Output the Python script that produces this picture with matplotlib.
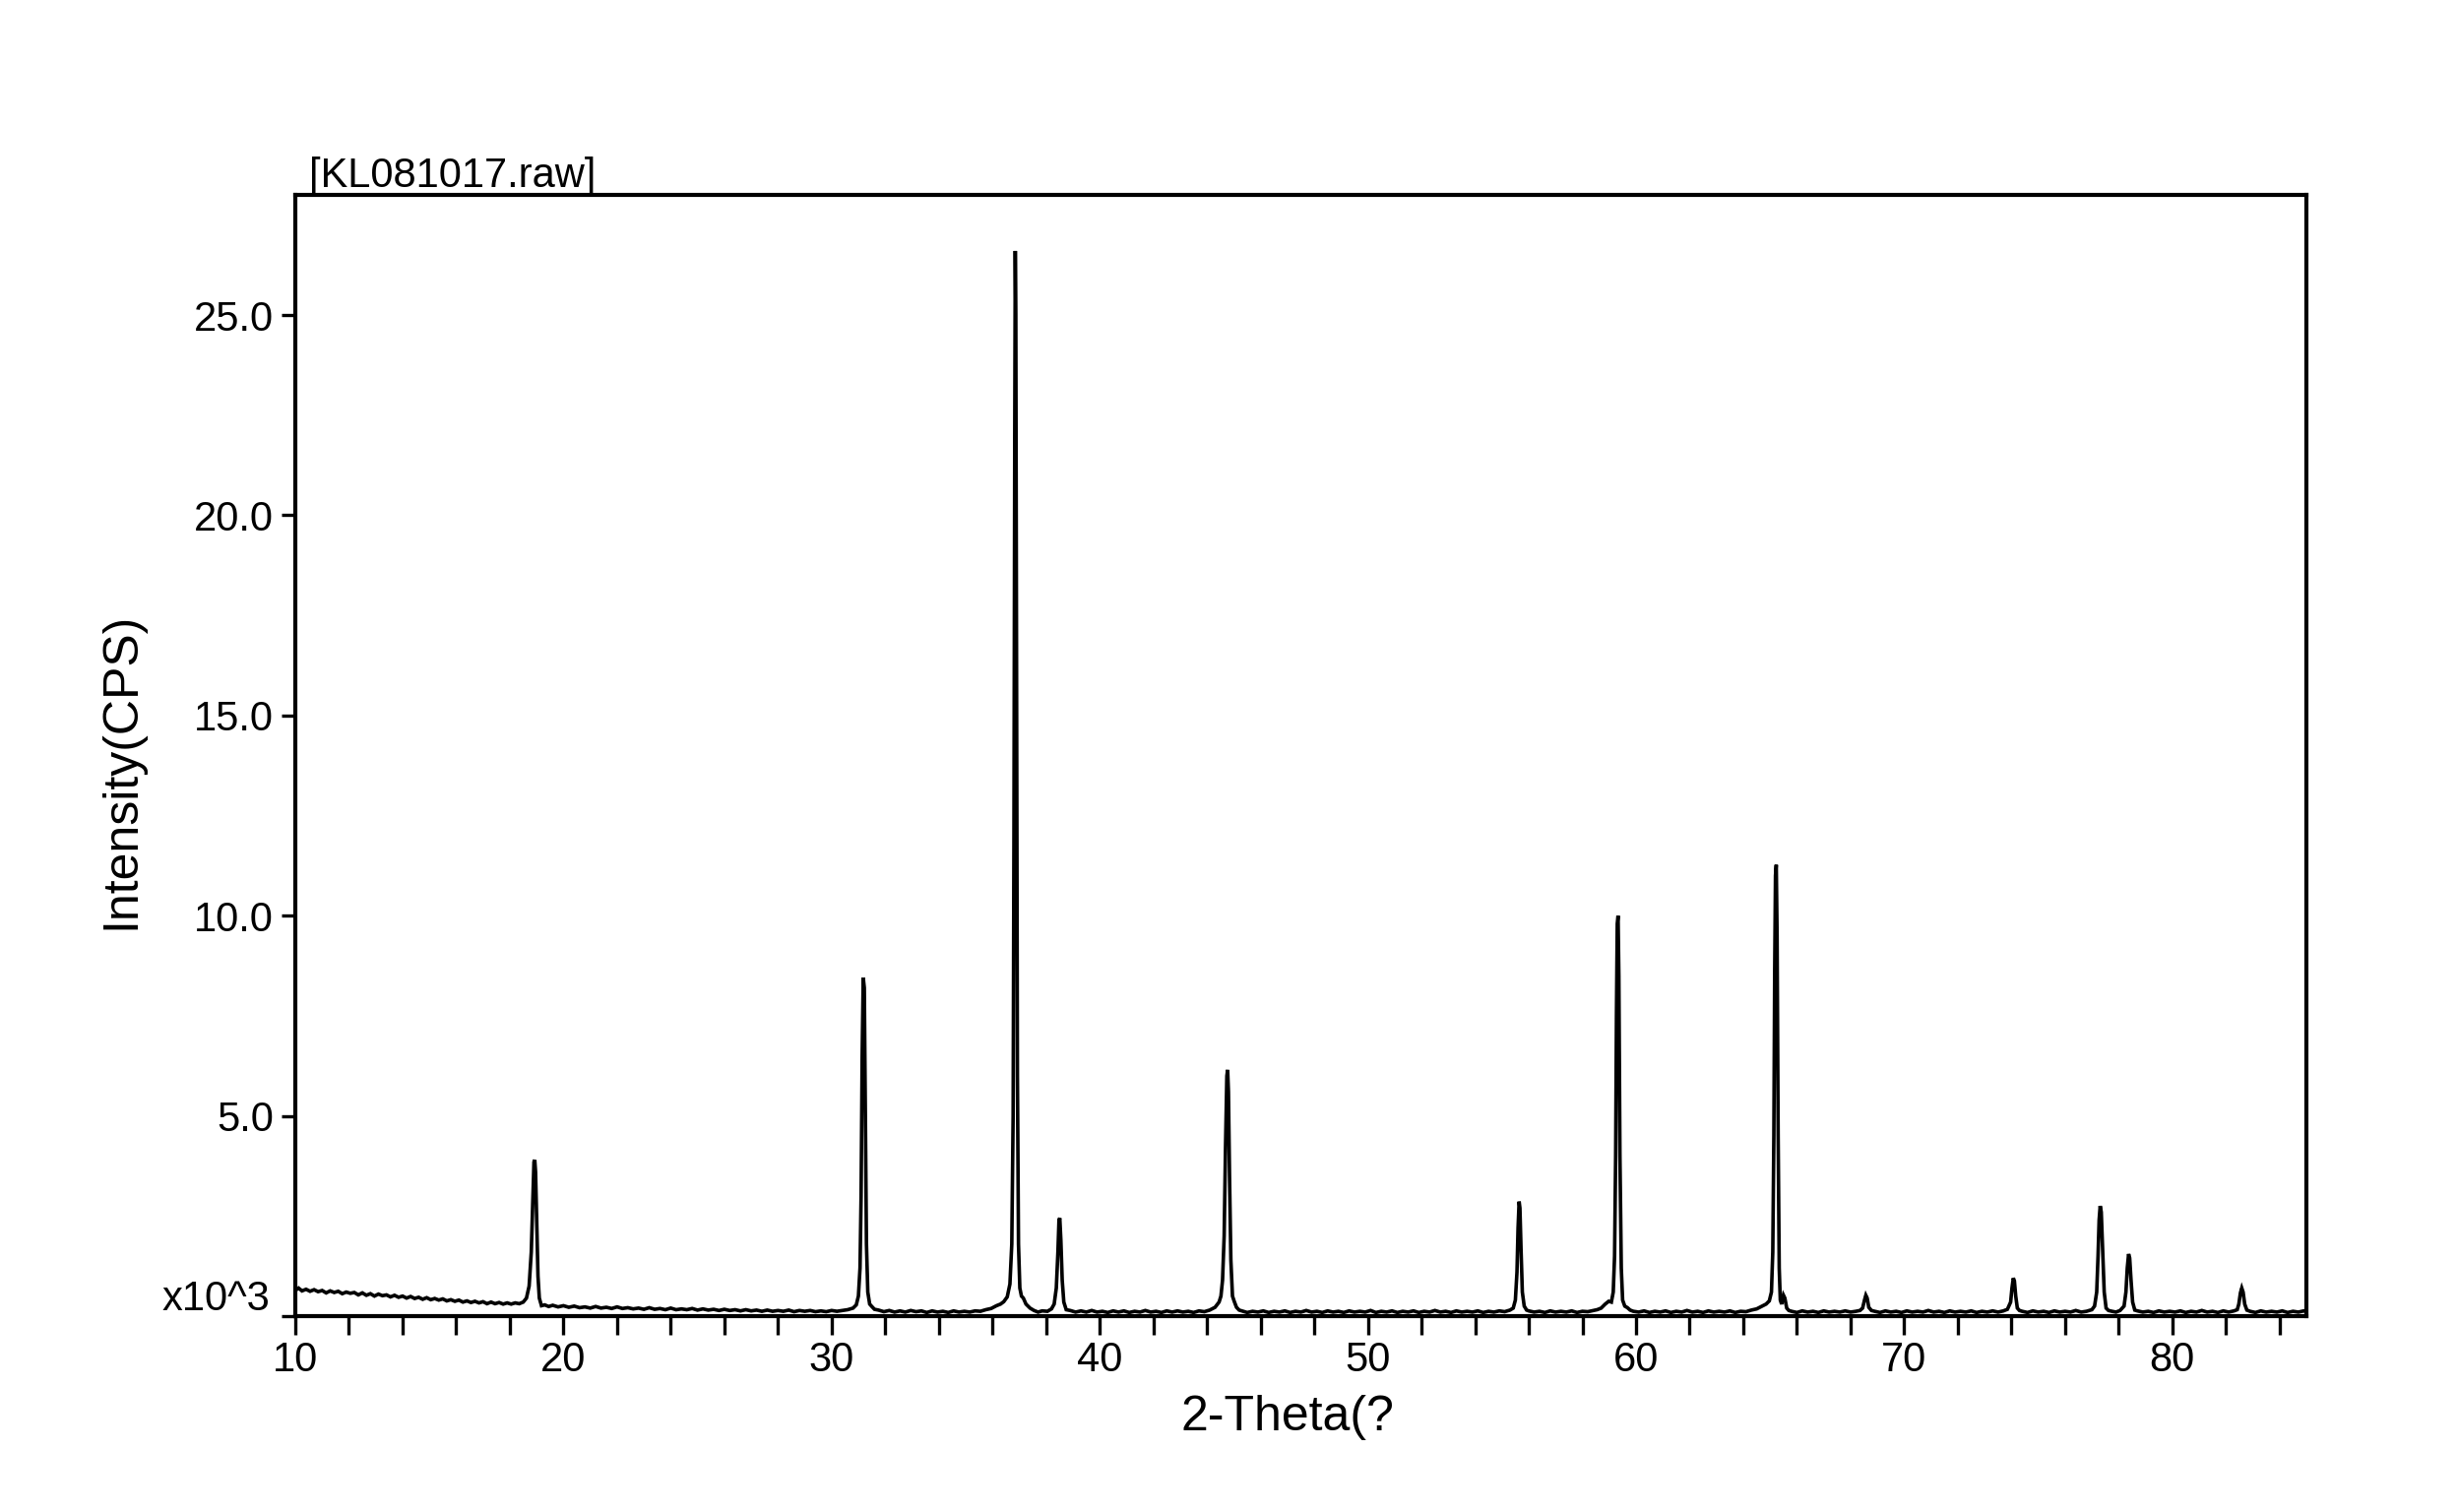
"""
plot.py - XRD pattern of sample KL081017 (2-theta scan, intensity in kCPS).
Values were read off the instrument printout by eye.
"""

import matplotlib
matplotlib.use("Agg")
import matplotlib.pyplot as plt
from matplotlib.ticker import MultipleLocator
import numpy as np

plt.rcParams["font.family"] = ["Liberation Sans", "DejaVu Sans"]

# (2-theta [deg], intensity [x10^3 CPS]), by angular range
scan_10_31 = [
    (10.00, 0.64), (10.12, 0.70), (10.25, 0.63), (10.40, 0.67), (10.55, 0.62),
    (10.70, 0.66), (10.85, 0.61), (11.00, 0.64), (11.15, 0.58), (11.30, 0.63),
    (11.45, 0.59), (11.60, 0.62), (11.75, 0.56), (11.90, 0.60), (12.05, 0.57),
    (12.20, 0.59), (12.35, 0.53), (12.50, 0.58), (12.65, 0.52), (12.80, 0.56),
    (12.95, 0.50), (13.10, 0.55), (13.25, 0.51), (13.40, 0.53), (13.55, 0.48),
    (13.70, 0.52), (13.85, 0.47), (14.00, 0.50), (14.15, 0.45), (14.30, 0.49),
    (14.45, 0.44), (14.60, 0.47), (14.75, 0.42), (14.90, 0.46), (15.05, 0.41),
    (15.20, 0.44), (15.35, 0.40), (15.50, 0.43), (15.65, 0.38), (15.80, 0.41),
    (15.95, 0.37), (16.10, 0.40), (16.25, 0.35), (16.40, 0.38), (16.55, 0.34),
    (16.70, 0.37), (16.85, 0.33), (17.00, 0.36), (17.15, 0.31), (17.30, 0.35),
    (17.45, 0.31), (17.60, 0.34), (17.75, 0.30), (17.90, 0.33), (18.05, 0.30),
    (18.20, 0.33), (18.35, 0.31), (18.50, 0.35), (18.62, 0.45), (18.72, 0.75),
    (18.80, 1.60), (18.86, 3.00), (18.90, 3.85), (18.93, 3.90), (18.96, 3.60),
    (19.00, 2.40), (19.05, 1.00), (19.10, 0.45), (19.18, 0.26), (19.30, 0.28),
    (19.45, 0.24), (19.60, 0.27), (19.80, 0.23), (20.00, 0.26), (20.20, 0.22),
    (20.40, 0.25), (20.60, 0.21), (20.80, 0.23), (21.00, 0.20), (21.20, 0.24),
    (21.40, 0.20), (21.60, 0.22), (21.80, 0.19), (22.00, 0.23), (22.20, 0.19),
    (22.40, 0.21), (22.60, 0.18), (22.80, 0.20), (23.00, 0.17), (23.20, 0.21),
    (23.40, 0.17), (23.60, 0.19), (23.80, 0.16), (24.00, 0.20), (24.20, 0.16),
    (24.40, 0.18), (24.60, 0.16), (24.80, 0.19), (25.00, 0.15), (25.20, 0.18),
    (25.40, 0.15), (25.60, 0.17), (25.80, 0.14), (26.00, 0.17), (26.20, 0.14),
    (26.40, 0.16), (26.60, 0.13), (26.80, 0.16), (27.00, 0.13), (27.20, 0.15),
    (27.40, 0.12), (27.60, 0.15), (27.80, 0.12), (28.00, 0.14), (28.20, 0.12),
    (28.40, 0.15), (28.60, 0.11), (28.80, 0.14), (29.00, 0.12), (29.20, 0.14),
    (29.40, 0.11), (29.60, 0.13), (29.80, 0.11), (30.00, 0.14), (30.20, 0.12),
    (30.40, 0.14), (30.60, 0.16), (30.80, 0.20), (30.92, 0.28), (31.00, 0.50),
    (31.06, 1.20), (31.10, 3.00), (31.14, 6.50), (31.18, 8.45), (31.22, 8.20),
    (31.26, 5.00), (31.30, 1.80), (31.35, 0.60), (31.42, 0.30), (31.50, 0.24),
    (31.60, 0.17),
]

scan_31_46 = [
    (31.75, 0.15), (31.95, 0.11), (32.15, 0.14), (32.35, 0.10), (32.55, 0.13),
    (32.75, 0.10), (32.95, 0.14), (33.15, 0.11), (33.35, 0.13), (33.55, 0.09),
    (33.75, 0.13), (33.95, 0.10), (34.15, 0.12), (34.35, 0.09), (34.55, 0.13),
    (34.75, 0.10), (34.95, 0.12), (35.15, 0.10), (35.35, 0.13), (35.55, 0.12),
    (35.75, 0.16), (35.95, 0.19), (36.15, 0.26), (36.30, 0.30), (36.42, 0.36),
    (36.55, 0.48), (36.65, 0.80), (36.72, 1.80), (36.77, 5.00), (36.80, 12.0),
    (36.83, 22.0), (36.85, 26.6), (36.87, 25.0), (36.90, 15.0), (36.93, 6.00),
    (36.97, 1.80), (37.02, 0.70), (37.08, 0.50), (37.15, 0.45), (37.25, 0.30),
    (37.40, 0.20), (37.55, 0.14), (37.70, 0.10), (37.85, 0.13), (38.05, 0.12),
    (38.20, 0.18), (38.30, 0.30), (38.38, 0.70), (38.44, 1.60), (38.48, 2.40),
    (38.51, 2.45), (38.55, 1.90), (38.60, 0.90), (38.66, 0.35), (38.75, 0.16),
    (38.90, 0.14), (39.10, 0.10), (39.30, 0.13), (39.50, 0.10), (39.70, 0.14),
    (39.90, 0.10), (40.10, 0.12), (40.30, 0.09), (40.50, 0.13), (40.70, 0.10),
    (40.90, 0.13), (41.10, 0.09), (41.30, 0.12), (41.50, 0.10), (41.70, 0.14),
    (41.90, 0.10), (42.10, 0.12), (42.30, 0.09), (42.50, 0.13), (42.70, 0.10),
    (42.90, 0.13), (43.10, 0.10), (43.30, 0.12), (43.50, 0.09), (43.70, 0.13),
    (43.90, 0.11), (44.10, 0.15), (44.30, 0.22), (44.45, 0.35), (44.52, 0.50),
    (44.58, 0.90), (44.64, 2.00), (44.69, 4.20), (44.74, 6.00), (44.77, 6.15),
    (44.80, 5.60), (44.84, 3.50), (44.89, 1.40), (44.95, 0.50), (45.02, 0.36),
    (45.10, 0.22), (45.20, 0.15), (45.30, 0.13), (45.50, 0.09), (45.70, 0.12),
    (45.90, 0.10),
]

scan_46_66 = [
    (46.10, 0.13), (46.30, 0.09), (46.50, 0.12), (46.70, 0.10), (46.90, 0.13),
    (47.10, 0.09), (47.30, 0.12), (47.50, 0.10), (47.70, 0.14), (47.90, 0.10),
    (48.10, 0.12), (48.30, 0.09), (48.50, 0.13), (48.70, 0.10), (48.90, 0.12),
    (49.10, 0.09), (49.30, 0.13), (49.50, 0.10), (49.70, 0.12), (49.90, 0.10),
    (50.10, 0.14), (50.30, 0.09), (50.50, 0.12), (50.70, 0.10), (50.90, 0.13),
    (51.10, 0.09), (51.30, 0.12), (51.50, 0.10), (51.70, 0.13), (51.90, 0.09),
    (52.10, 0.12), (52.30, 0.10), (52.50, 0.14), (52.70, 0.10), (52.90, 0.12),
    (53.10, 0.09), (53.30, 0.13), (53.50, 0.10), (53.70, 0.12), (53.90, 0.10),
    (54.10, 0.13), (54.30, 0.09), (54.50, 0.12), (54.70, 0.10), (54.90, 0.13),
    (55.10, 0.11), (55.30, 0.15), (55.42, 0.20), (55.50, 0.40), (55.56, 1.10),
    (55.60, 2.20), (55.64, 2.86), (55.67, 2.70), (55.71, 1.70), (55.76, 0.60),
    (55.83, 0.25), (55.92, 0.15), (56.00, 0.13), (56.20, 0.10), (56.40, 0.12),
    (56.60, 0.09), (56.80, 0.13), (57.00, 0.10), (57.20, 0.12), (57.40, 0.10),
    (57.60, 0.13), (57.80, 0.09), (58.00, 0.12), (58.20, 0.11), (58.40, 0.14),
    (58.55, 0.16), (58.70, 0.20), (58.85, 0.30), (58.98, 0.37), (59.08, 0.35),
    (59.15, 0.60), (59.20, 1.50), (59.24, 4.00), (59.27, 7.50), (59.30, 9.80),
    (59.33, 10.0), (59.36, 8.50), (59.40, 4.00), (59.45, 1.20), (59.50, 0.40),
    (59.58, 0.25), (59.68, 0.21), (59.78, 0.15), (59.90, 0.12), (60.10, 0.10),
    (60.30, 0.13), (60.50, 0.09), (60.70, 0.12), (60.90, 0.10), (61.10, 0.13),
    (61.30, 0.09), (61.50, 0.12), (61.70, 0.10), (61.90, 0.14), (62.10, 0.10),
    (62.30, 0.12), (62.50, 0.09), (62.70, 0.13), (62.90, 0.10), (63.10, 0.12),
    (63.30, 0.10), (63.50, 0.13), (63.70, 0.09), (63.90, 0.12), (64.10, 0.11),
    (64.30, 0.15), (64.50, 0.18), (64.70, 0.25), (64.85, 0.30), (64.97, 0.38),
    (65.05, 0.60), (65.10, 1.60), (65.14, 4.50), (65.17, 8.50), (65.20, 11.0),
    (65.23, 11.27), (65.26, 9.50), (65.30, 4.50), (65.34, 1.20), (65.38, 0.40),
    (65.43, 0.30), (65.50, 0.52), (65.55, 0.45), (65.62, 0.20), (65.70, 0.14),
    (65.80, 0.12),
]

scan_66_85 = [
    (66.00, 0.09), (66.20, 0.13), (66.40, 0.10), (66.60, 0.12), (66.80, 0.09),
    (67.00, 0.13), (67.20, 0.10), (67.40, 0.12), (67.60, 0.10), (67.80, 0.13),
    (68.00, 0.10), (68.20, 0.12), (68.35, 0.14), (68.45, 0.20), (68.52, 0.40),
    (68.57, 0.52), (68.62, 0.45), (68.68, 0.22), (68.78, 0.14), (68.90, 0.12),
    (69.10, 0.09), (69.30, 0.13), (69.50, 0.10), (69.70, 0.12), (69.90, 0.09),
    (70.10, 0.13), (70.30, 0.10), (70.50, 0.12), (70.70, 0.10), (70.90, 0.14),
    (71.10, 0.10), (71.30, 0.12), (71.50, 0.09), (71.70, 0.13), (71.90, 0.10),
    (72.10, 0.12), (72.30, 0.10), (72.50, 0.13), (72.70, 0.09), (72.90, 0.12),
    (73.10, 0.10), (73.30, 0.13), (73.50, 0.10), (73.70, 0.13), (73.85, 0.17),
    (73.97, 0.35), (74.02, 0.70), (74.07, 0.95), (74.11, 0.88), (74.16, 0.50),
    (74.22, 0.20), (74.30, 0.14), (74.40, 0.12), (74.60, 0.09), (74.80, 0.13),
    (75.00, 0.10), (75.20, 0.12), (75.40, 0.09), (75.60, 0.13), (75.80, 0.10),
    (76.00, 0.12), (76.20, 0.10), (76.40, 0.14), (76.60, 0.10), (76.80, 0.12),
    (77.00, 0.16), (77.10, 0.25), (77.18, 0.60), (77.23, 1.50), (77.27, 2.40),
    (77.31, 2.75), (77.35, 2.60), (77.40, 1.70), (77.46, 0.60), (77.53, 0.20),
    (77.62, 0.14), (77.75, 0.12), (77.90, 0.10), (78.05, 0.14), (78.20, 0.25),
    (78.27, 0.60), (78.32, 1.20), (78.37, 1.55), (78.41, 1.45), (78.46, 0.90),
    (78.52, 0.35), (78.60, 0.15), (78.70, 0.13), (78.90, 0.10), (79.10, 0.12),
    (79.30, 0.09), (79.50, 0.13), (79.70, 0.10), (79.90, 0.12), (80.10, 0.10),
    (80.30, 0.13), (80.50, 0.09), (80.70, 0.12), (80.90, 0.10), (81.10, 0.14),
    (81.30, 0.10), (81.50, 0.12), (81.70, 0.09), (81.90, 0.13), (82.10, 0.10),
    (82.30, 0.13), (82.42, 0.16), (82.48, 0.30), (82.54, 0.58), (82.59, 0.70),
    (82.64, 0.60), (82.70, 0.30), (82.78, 0.15), (82.90, 0.12), (83.10, 0.09),
    (83.30, 0.13), (83.50, 0.10), (83.70, 0.12), (83.90, 0.10), (84.10, 0.13),
    (84.30, 0.09), (84.50, 0.12), (84.70, 0.10), (84.90, 0.13), (85.00, 0.11),
]

x_major = [10, 20, 30, 40, 50, 60, 70, 80]
y_ticks = [0, 5, 10, 15, 20, 25]
y_tick_labels = ["", "5.0", "10.0", "15.0", "20.0", "25.0"]

title = "[KL081017.raw]"
x_label = "2-Theta(?"
y_label = "Intensity(CPS)"
y_scale_note = "x10^3"

scan = np.array(scan_10_31 + scan_31_46 + scan_46_66 + scan_66_85)
two_theta, counts = scan[:, 0], scan[:, 1]

W, H = 2496, 1536
fig = plt.figure(figsize=(W / 100, H / 100), dpi=100)
ax = fig.add_axes([300 / W, 1 - 1337 / H, 2043 / W, 1139 / H])

ax.plot(two_theta, counts, color="black", lw=2.6, solid_joinstyle="miter")

ax.set_xlim(10, 85)
ax.set_ylim(0, 28.0)
ax.set_xticks(x_major)
ax.xaxis.set_minor_locator(MultipleLocator(2))
ax.set_yticks(y_ticks)
ax.set_yticklabels(y_tick_labels)

for s in ax.spines.values():
    s.set_linewidth(3.0)
ax.tick_params(axis="x", which="both", direction="out", length=14, width=2.4,
               pad=4, labelsize=30)
ax.tick_params(axis="y", which="both", direction="out", length=10, width=2.4,
               pad=6, labelsize=30)

ax.set_xlabel(x_label, fontsize=36, va="center")
ax.xaxis.set_label_coords(0.4934, -0.0904)
ax.set_ylabel(y_label, fontsize=36, va="center")
ax.yaxis.set_label_coords(-0.0866, 0.4864)

fig.text(314 / W, 1 - 190 / H, title, ha="left", va="baseline", fontsize=30)
fig.text(274 / W, 1 - 1320 / H, y_scale_note, ha="right", va="center", fontsize=30)

fig.savefig("out.png", dpi=100)
plt.close(fig)
